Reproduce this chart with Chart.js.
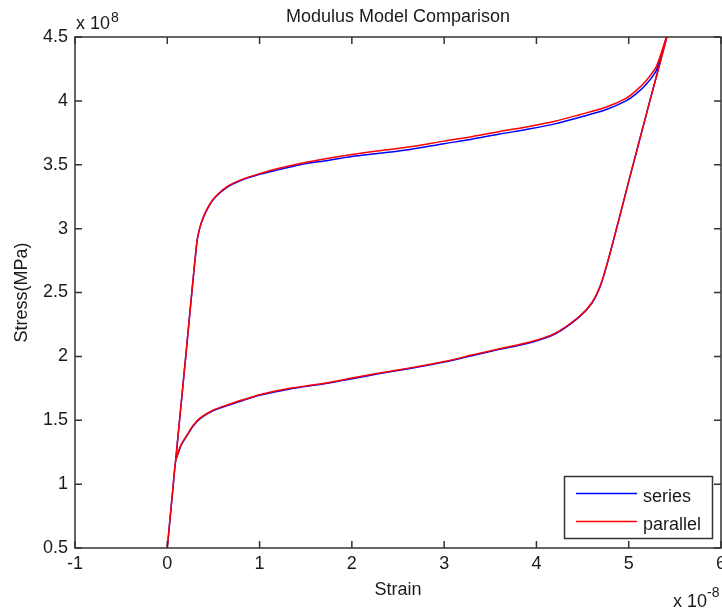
<!DOCTYPE html>
<html>
<head>
<meta charset="utf-8">
<title>Modulus Model Comparison</title>
<script src="https://cdn.jsdelivr.net/npm/chart.js@4.4.0/dist/chart.umd.min.js"></script>
<style>
  html, body { margin: 0; padding: 0; background: #fff; }
  canvas { display: block; }
</style>
</head>
<body>
<canvas id="myChart" width="722" height="610"></canvas>
<script>
// strain in units of 1e-8, stress in units of 1e8
// path: up the left branch, lower curve to the right, up the right branch, upper curve back
const strain = [
    0.00, 0.03, 0.06, 0.09,
    0.11, 0.15, 0.21, 0.28, 0.36, 0.50, 0.65, 0.82, 1.00, 1.33, 1.70, 2.00,
    2.30, 2.63, 3.00, 3.30, 3.60, 3.92, 4.20, 4.46, 4.60, 4.70, 4.81,
    5.00, 5.20, 5.43,
    5.30, 5.19, 5.08, 4.97, 4.75, 4.46, 4.20, 3.92, 3.60, 3.30, 3.00, 2.63,
    2.30, 2.00, 1.70, 1.44, 1.20, 1.00, 0.79, 0.65, 0.52, 0.45, 0.39, 0.35, 0.32,
    0.20, 0.09
];
const stressParallel = [
    0.50, 0.73, 0.96, 1.18,
    1.23, 1.31, 1.38, 1.46, 1.52, 1.58, 1.62, 1.66, 1.70, 1.75, 1.79, 1.83,
    1.87, 1.91, 1.96, 2.01, 2.06, 2.11, 2.18, 2.31, 2.42, 2.57, 2.84,
    3.37, 3.92, 4.55,
    4.27, 4.16, 4.08, 4.02, 3.95, 3.89, 3.84, 3.80, 3.76, 3.72, 3.685, 3.64,
    3.61, 3.58, 3.545, 3.51, 3.47, 3.43, 3.38, 3.33, 3.25, 3.18, 3.09, 3.00, 2.89,
    2.00, 1.18
];
const stressSeries = [
    0.50, 0.73, 0.96, 1.18,
    1.225, 1.305, 1.375, 1.455, 1.515, 1.575, 1.615, 1.655, 1.695, 1.745, 1.785, 1.825,
    1.865, 1.905, 1.955, 2.005, 2.055, 2.105, 2.175, 2.305, 2.415, 2.565, 2.84,
    3.37, 3.92, 4.55,
    4.24, 4.13, 4.055, 4.00, 3.93, 3.87, 3.82, 3.78, 3.74, 3.70, 3.665, 3.62,
    3.59, 3.565, 3.53, 3.50, 3.46, 3.425, 3.375, 3.325, 3.245, 3.175, 3.085, 3.00, 2.89,
    2.00, 1.18
];
const xTicks = [-1, 0, 1, 2, 3, 4, 5, 6];
const yTicks = [0.5, 1, 1.5, 2, 2.5, 3, 3.5, 4, 4.5];

const FONT = '"Liberation Sans", Arial, sans-serif';
const INK = '#1a1a1a';

function points(ys) {
    return strain.map((x, i) => ({ x: x, y: ys[i] }));
}

// MATLAB style box, inward ticks, title, exponents and legend
const matlabAxes = {
    id: 'matlabAxes',
    afterDatasetsDraw(chart) {
        const ctx = chart.ctx;
        const a = chart.chartArea;
        const sx = chart.scales.x, sy = chart.scales.y;
        const tl = 7;
        ctx.save();
        ctx.strokeStyle = '#333';
        ctx.lineWidth = 1.5;
        ctx.strokeRect(a.left, a.top, a.right - a.left, a.bottom - a.top);
        ctx.beginPath();
        for (const t of sx.ticks) {
            const px = sx.getPixelForValue(t.value);
            ctx.moveTo(px, a.bottom); ctx.lineTo(px, a.bottom - tl);
            ctx.moveTo(px, a.top); ctx.lineTo(px, a.top + tl);
        }
        for (const t of sy.ticks) {
            const py = sy.getPixelForValue(t.value);
            ctx.moveTo(a.left, py); ctx.lineTo(a.left + tl, py);
            ctx.moveTo(a.right, py); ctx.lineTo(a.right - tl, py);
        }
        ctx.stroke();
        ctx.restore();
    },
    afterDraw(chart) {
        const ctx = chart.ctx;
        const a = chart.chartArea;
        ctx.save();
        ctx.fillStyle = INK;
        ctx.textBaseline = 'alphabetic';

        // title
        ctx.font = '18px ' + FONT;
        ctx.textAlign = 'center';
        ctx.fillText('Modulus Model Comparison', (a.left + a.right) / 2, 22);

        // exponent labels
        ctx.textAlign = 'left';
        ctx.font = '18px ' + FONT;
        ctx.fillText('x 10', 76, 29);
        ctx.font = '14px ' + FONT;
        ctx.fillText('8', 111, 22);
        ctx.font = '18px ' + FONT;
        ctx.fillText('x 10', 673, 607);
        ctx.font = '14px ' + FONT;
        ctx.fillText('-8', 707, 597);

        // legend
        const lx = 564.5, ly = 476.5, lw = 148, lh = 62;
        ctx.fillStyle = '#fff';
        ctx.fillRect(lx, ly, lw, lh);
        ctx.strokeStyle = '#333';
        ctx.lineWidth = 1.5;
        ctx.strokeRect(lx, ly, lw, lh);
        const rows = [493.5, 521.5];
        chart.data.datasets.forEach((ds, i) => {
            const y = rows[i];
            ctx.strokeStyle = ds.borderColor;
            ctx.lineWidth = 1.5;
            ctx.beginPath();
            ctx.moveTo(576, y);
            ctx.lineTo(637, y);
            ctx.stroke();
            ctx.fillStyle = INK;
            ctx.font = '18px ' + FONT;
            ctx.fillText(ds.label, 643, y + 8);
        });
        ctx.restore();
    }
};

const data = {
    datasets: [{
        label: 'series',
        data: points(stressSeries),
        borderColor: '#0000ff',
        backgroundColor: '#0000ff',
        order: 1
    }, {
        label: 'parallel',
        data: points(stressParallel),
        borderColor: '#ff0000',
        backgroundColor: '#ff0000',
        order: 0
    }]
};

const config = {
    type: 'scatter',
    data: data,
    options: {
        responsive: false,
        animation: false,
        devicePixelRatio: 1,
        layout: { padding: { top: 37, right: 1, left: 0, bottom: 0 } },
        elements: {
            point: { radius: 0, hoverRadius: 0 },
            line: { borderWidth: 1.5, tension: 0.3, fill: false }
        },
        datasets: { scatter: { showLine: true } },
        plugins: {
            legend: { display: false },
            title: { display: false },
            tooltip: { enabled: false }
        },
        scales: {
            x: {
                type: 'linear',
                min: -1,
                max: 6,
                afterBuildTicks: s => { s.ticks = xTicks.map(v => ({ value: v })); },
                afterFit: s => { s.height = 62; s.paddingLeft = 0; s.paddingRight = 0; },
                grid: { display: false, drawTicks: false },
                border: { display: false },
                ticks: {
                    color: INK,
                    padding: 5,
                    maxRotation: 0,
                    autoSkip: false,
                    font: { family: FONT, size: 18 },
                    callback: v => String(v)
                },
                title: {
                    display: true,
                    text: 'Strain',
                    color: INK,
                    font: { family: FONT, size: 18 },
                    padding: { top: 0, bottom: 9 }
                }
            },
            y: {
                type: 'linear',
                min: 0.5,
                max: 4.5,
                afterBuildTicks: s => { s.ticks = yTicks.map(v => ({ value: v })); },
                afterFit: s => { s.width = 75; s.paddingTop = 0; s.paddingBottom = 0; },
                grid: { display: false, drawTicks: false },
                border: { display: false },
                ticks: {
                    color: INK,
                    padding: 7,
                    autoSkip: false,
                    font: { family: FONT, size: 18 },
                    callback: v => String(v)
                },
                title: {
                    display: true,
                    text: 'Stress(MPa)',
                    color: INK,
                    font: { family: FONT, size: 18 },
                    padding: { top: 11, bottom: 0 }
                }
            }
        }
    },
    plugins: [matlabAxes]
};

const myChart = new Chart(document.getElementById('myChart'), config);
</script>
</body>
</html>
